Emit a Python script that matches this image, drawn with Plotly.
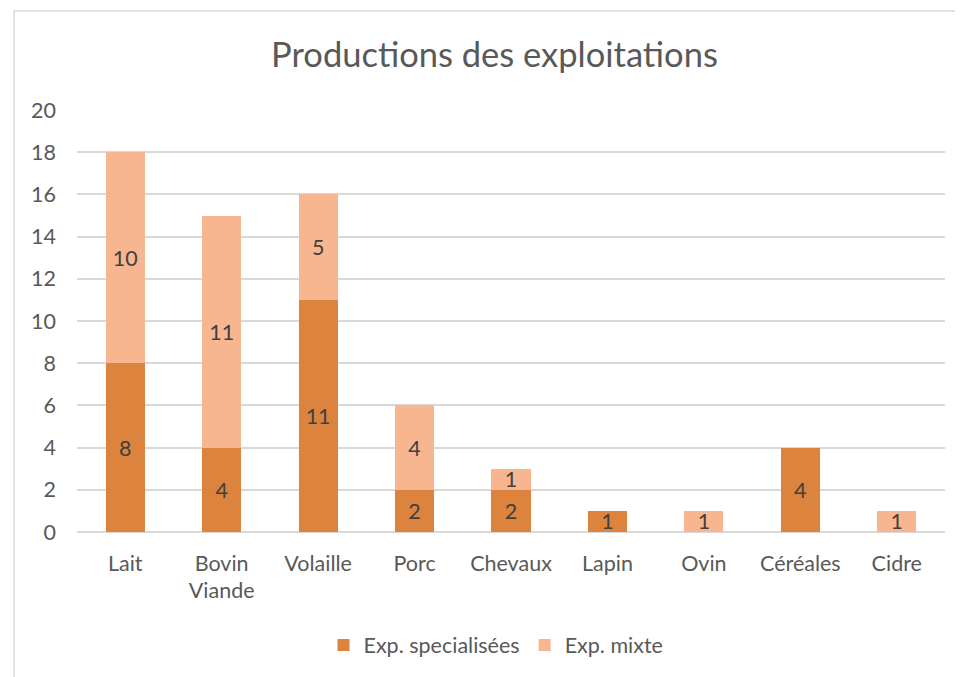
import plotly.graph_objects as go

categories = ["Lait", "Bovin<br>Viande", "Volaille", "Porc", "Chevaux", "Lapin", "Ovin", "Céréales", "Cidre"]
specialisees = [8, 4, 11, 2, 2, 1, None, 4, None]
mixte = [10, 11, 5, 4, 1, None, 1, None, 1]
y_ticks = [0, 2, 4, 6, 8, 10, 12, 14, 16, 18, 20]

FONT = "Lato"
TXT = "#595959"
FS = 21.5

def labels(vals):
    return ["" if v is None else str(v) for v in vals]

fig = go.Figure()
fig.add_trace(go.Bar(
    x=categories, y=specialisees, name="Exp. specialisées",
    marker=dict(color="#DC843D", line=dict(width=0)),
    text=labels(specialisees), textposition="inside", insidetextanchor="middle", textangle=0,
    textfont=dict(family=FONT, size=FS, color="#404040"),
))
fig.add_trace(go.Bar(
    x=categories, y=mixte, name="Exp. mixte",
    marker=dict(color="#F8B690", line=dict(width=0)),
    text=labels(mixte), textposition="inside", insidetextanchor="middle", textangle=0,
    textfont=dict(family=FONT, size=FS, color="#404040"),
))

# page body has an 8px offset; convert screen pixels to figure pixels
OFF = 8
W, H = 963, 677
l = 77 - OFF
t = 110 - OFF
r = W - (945 - OFF)
b = H - (532 - OFF)
pw, ph = W - l - r, H - t - b

def px_x(p):
    return (p - OFF - l) / pw

def px_y(p):
    return (H - b - (p - OFF)) / ph

fig.update_layout(
    width=W, height=H,
    barmode="stack", bargap=0.595,
    plot_bgcolor="white", paper_bgcolor="white",
    margin=dict(l=l, r=r, t=t, b=b, autoexpand=False),
    font=dict(family=FONT, color=TXT, size=FS),
    uniformtext=dict(minsize=FS, mode="show"),
    title=dict(text="Productions des exploitations", x=(494.5 - OFF) / W, xanchor="center", xref="container",
               y=1 - (55 - OFF) / H, yanchor="middle", yref="container",
               font=dict(family=FONT, size=34.5, color=TXT)),
    xaxis=dict(showgrid=False, showline=False, ticks="", ticklabelstandoff=16,
               tickfont=dict(size=FS, color=TXT)),
    yaxis=dict(range=[0, 20], tickvals=y_ticks, showgrid=True, gridcolor="#D9D9D9", gridwidth=1.5,
               zeroline=True, zerolinecolor="#D9D9D9", zerolinewidth=1.5,
               ticks="", ticklabelstandoff=20, tickfont=dict(size=FS, color=TXT)),
    legend=dict(orientation="h", x=px_x(496), xanchor="center", y=px_y(645), yanchor="middle",
                font=dict(size=FS, color=TXT), traceorder="normal", itemwidth=30),
    showlegend=True,
)
fig.add_shape(type="rect", xref="paper", yref="paper",
              x0=px_x(14), x1=px_x(1000), y0=px_y(720), y1=px_y(11),
              line=dict(color="#D9D9D9", width=1.5), fillcolor="rgba(0,0,0,0)", layer="below")

fig.write_html("out.html")
